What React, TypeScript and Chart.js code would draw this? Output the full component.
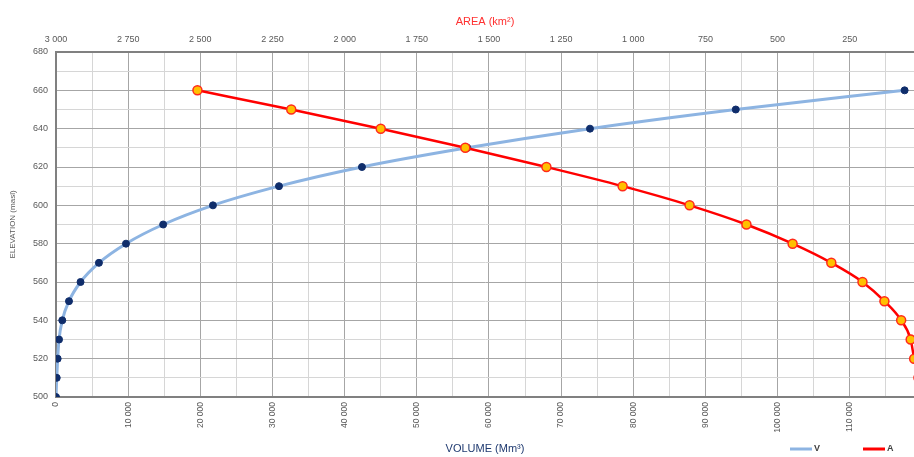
import React, { useEffect, useRef } from 'react';
import { Chart, registerables } from 'chart.js';

Chart.register(...registerables);

// Elevation (masl) of each reading
const elevations = [500, 510, 520, 530, 540, 550, 560, 570, 580, 590, 600, 610, 620, 630, 640, 650, 660];
// Storage volume V (Mm³) at each elevation
const volumeMm3 = [0, 100, 230, 420, 870, 1800, 3400, 5950, 9700, 14850, 21750, 30900, 42400, 57000, 74000, 94200, 117600];
// Surface area A (km²) at each elevation
const areaKm2 = [0, 12, 27, 39, 72, 130, 206, 314, 448, 608, 805, 1037, 1301, 1582, 1875, 2185, 2510];

const seriesNames = ['V', 'A'];
const volumeTitle = 'VOLUME (Mm³)';
const areaTitle = 'AREA (km²)';
const elevationTitle = 'ELEVATION (masl)';

// axis ranges
const volumeMin = 0;
const volumeMax = 118900;
const volumeStep = 5000;
const volumeLabelStep = 10000;
const areaMin = 27.5;
const areaMax = 3000;
const areaStep = 125;
const areaLabelStep = 250;
const elevMin = 500;
const elevMax = 680;
const elevStep = 10;
const elevLabelStep = 20;

const BLUE_LINE = '#8db4e2';
const BLUE_POINT = '#0f2d6b';
const RED_LINE = '#ff0000';
const RED_POINT = '#ffc000';
const MAJOR = '#a6a6a6';
const MINOR = '#d6d6d6';
const AXIS = '#808080';
const TICK = '#595959';
const FONT = "'Liberation Sans', Arial, sans-serif";

const fmt = (v: number) => Math.round(v).toLocaleString('en-US').replace(/,/g, ' ');
const isMult = (v: number, s: number) => Math.abs(v / s - Math.round(v / s)) < 1e-6;
const stepTicks = (min: number, max: number, step: number) => {
  const out: { value: number }[] = [];
  for (let v = Math.ceil(min / step) * step; v <= max + 1e-9; v += step) out.push({ value: v });
  return out;
};
const noPad = (s: any) => {
  s.paddingLeft = 0;
  s.paddingRight = 0;
  s.paddingTop = 0;
  s.paddingBottom = 0;
};

const legendPlugin = {
  id: 'customLegend',
  afterDraw(chart: any) {
    const ctx = chart.ctx;
    const y = 449;
    const items = [
      { label: seriesNames[0], color: BLUE_LINE, x: 790 },
      { label: seriesNames[1], color: RED_LINE, x: 863 },
    ];
    ctx.save();
    for (const it of items) {
      ctx.strokeStyle = it.color;
      ctx.lineWidth = 3;
      ctx.beginPath();
      ctx.moveTo(it.x, y);
      ctx.lineTo(it.x + 22, y);
      ctx.stroke();
      ctx.fillStyle = '#404040';
      ctx.font = `bold 9px ${FONT}`;
      ctx.textBaseline = 'middle';
      ctx.textAlign = 'left';
      ctx.fillText(it.label, it.x + 24, y);
    }
    ctx.restore();
  },
};

export default function App() {
  const ref = useRef<HTMLCanvasElement>(null);

  useEffect(() => {
    if (!ref.current) return;
    const chart = new Chart(ref.current, {
      type: 'line',
      data: {
        datasets: [
          {
            label: seriesNames[0],
            data: elevations.map((e, i) => ({ x: volumeMm3[i], y: e })),
            xAxisID: 'x',
            yAxisID: 'y',
            borderColor: BLUE_LINE,
            borderWidth: 3,
            pointRadius: 3.5,
            pointBackgroundColor: BLUE_POINT,
            pointBorderColor: BLUE_POINT,
            pointBorderWidth: 1,
            cubicInterpolationMode: 'monotone',
            order: 1,
          },
          {
            label: seriesNames[1],
            data: elevations.map((e, i) => ({ x: areaKm2[i], y: e })).reverse(),
            xAxisID: 'x2',
            yAxisID: 'y',
            borderColor: RED_LINE,
            borderWidth: 2.5,
            pointRadius: 4.5,
            pointBackgroundColor: RED_POINT,
            pointBorderColor: '#ff2a1a',
            pointBorderWidth: 1.5,
            cubicInterpolationMode: 'monotone',
            order: 0,
          },
        ],
      },
      options: {
        responsive: false,
        animation: false,
        devicePixelRatio: 1,
        layout: { padding: 0, autoPadding: false },
        plugins: { legend: { display: false }, tooltip: { enabled: false } },
        scales: {
          x: {
            type: 'linear',
            position: 'bottom',
            min: volumeMin,
            max: volumeMax,
            afterBuildTicks: (s: any) => {
              s.ticks = stepTicks(volumeMin, volumeMax, volumeStep);
            },
            afterFit: (s: any) => {
              s.height = 60;
              noPad(s);
            },
            ticks: {
              autoSkip: false,
              minRotation: 90,
              maxRotation: 90,
              padding: 5,
              color: TICK,
              font: { family: FONT, size: 8.5 },
              callback: (v: any) => (isMult(Number(v), volumeLabelStep) ? fmt(Number(v)) : ''),
            },
            grid: {
              drawTicks: false,
              color: (c: any) => (c.tick && isMult(c.tick.value, volumeLabelStep) ? MAJOR : MINOR),
              lineWidth: 1,
            },
            border: { display: true, color: AXIS, width: 2 },
            title: {
              display: true,
              text: volumeTitle,
              color: '#1f3a70',
              font: { family: FONT, size: 11 },
              padding: { top: 0, bottom: 1.5 },
            },
          },
          x2: {
            type: 'linear',
            position: 'top',
            reverse: true,
            min: areaMin,
            max: areaMax,
            afterBuildTicks: (s: any) => {
              s.ticks = stepTicks(areaMin, areaMax, areaStep);
            },
            afterFit: (s: any) => {
              s.height = 52;
              noPad(s);
            },
            ticks: {
              autoSkip: false,
              maxRotation: 0,
              minRotation: 0,
              padding: 7,
              color: TICK,
              font: { family: FONT, size: 9 },
              callback: (v: any) => (isMult(Number(v), areaLabelStep) ? fmt(Number(v)) : ''),
            },
            grid: { drawOnChartArea: false, drawTicks: false },
            border: { display: true, color: AXIS, width: 2 },
            title: {
              display: true,
              text: areaTitle,
              color: '#ff3030',
              font: { family: FONT, size: 11 },
              padding: { top: 15, bottom: 0 },
            },
          },
          y: {
            type: 'linear',
            position: 'left',
            min: elevMin,
            max: elevMax,
            afterBuildTicks: (s: any) => {
              s.ticks = stepTicks(elevMin, elevMax, elevStep);
            },
            afterFit: (s: any) => {
              s.width = 56;
              noPad(s);
            },
            ticks: {
              autoSkip: false,
              padding: 8,
              color: TICK,
              font: { family: FONT, size: 9 },
              callback: (v: any) => (isMult(Number(v), elevLabelStep) ? String(v) : ''),
            },
            grid: {
              drawTicks: false,
              color: (c: any) => (c.tick && isMult(c.tick.value, elevLabelStep) ? MAJOR : MINOR),
              lineWidth: 1,
            },
            border: { display: true, color: AXIS, width: 2 },
            title: {
              display: true,
              text: elevationTitle,
              color: '#595959',
              font: { family: FONT, size: 8 },
              padding: { top: 8, bottom: 0 },
            },
          },
        },
      },
      plugins: [legendPlugin],
    } as any);
    return () => chart.destroy();
  }, []);

  return (
    <div style={{ position: 'fixed', left: 0, top: 0, width: 914, height: 457, background: '#fff' }}>
      <canvas ref={ref} width={914} height={457} style={{ width: 914, height: 457, display: 'block' }} />
    </div>
  );
}
